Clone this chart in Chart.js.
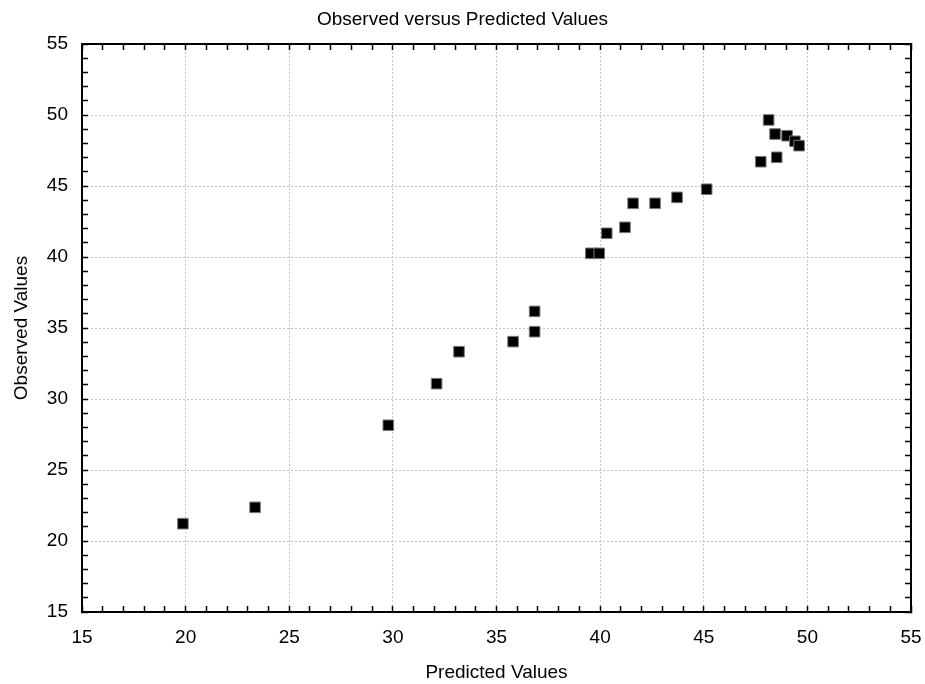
<!DOCTYPE html>
<html>
<head>
<meta charset="utf-8">
<title>Observed versus Predicted Values</title>
<script src="https://cdn.jsdelivr.net/npm/chart.js@4/dist/chart.umd.min.js"></script>
<style>
  body { margin: 0; background: #fff; }
  canvas { display: block; }
</style>
</head>
<body>
<canvas id="myChart" width="925" height="684"></canvas>
<script>
// values
const predicted = [19.87, 23.35, 29.78, 32.11, 33.19, 35.80, 36.84, 36.84, 39.55, 39.96,
                   40.32, 41.20, 41.59, 42.65, 43.71, 45.14, 47.75, 48.13, 48.44, 48.52,
                   49.02, 49.40, 49.60];
const observed  = [21.22, 22.37, 28.15, 31.08, 33.33, 34.04, 34.74, 36.17, 40.26, 40.26,
                   41.67, 42.09, 43.78, 43.78, 44.20, 44.77, 46.71, 49.65, 48.66, 47.02,
                   48.54, 48.15, 47.84];
const axisMin = 15;
const axisMax = 55;
const majorStep = 5;

const fontFamily = "'Liberation Sans', Arial, sans-serif";

let points = [];
for (var i = 0; i < predicted.length; i++)
  points.push({x: predicted[i], y: observed[i]});

function majorLabel(v)
{
  return v % majorStep === 0 ? v : '';
}
function gridColor(c)
{
  const v = c.tick ? c.tick.value : null;
  if (v === null || v % majorStep !== 0 || v === axisMin || v === axisMax)
    return 'rgba(0,0,0,0)';
  return '#c4c4c4';
}

// common bits for the four axes
function axis(position, size, showLabels, titleText, titlePad)
{
  const horiz = position === 'top' || position === 'bottom';
  return {
    type: 'linear',
    position: position,
    min: axisMin,
    max: axisMax,
    afterFit: function (s) {
      if (horiz) s.height = size; else s.width = size;
      // edge labels must not push the plot area in
      s.paddingLeft = 0; s.paddingRight = 0;
      s.paddingTop = 0; s.paddingBottom = 0;
    },
    ticks: {
      stepSize: 1,
      autoSkip: false,
      display: showLabels,
      maxRotation: 0,
      padding: 20,
      color: '#000',
      font: { family: fontFamily, size: 19 },
      callback: majorLabel
    },
    grid: {
      drawOnChartArea: showLabels,
      color: gridColor,
      lineWidth: 1,
      drawTicks: true,
      tickLength: -6,
      tickColor: '#000',
      tickWidth: 1.5
    },
    border: { display: true, color: '#000', width: 2, dash: [2, 2] },
    title: {
      display: !!titleText,
      text: titleText || '',
      color: '#000',
      font: { family: fontFamily, size: 19 },
      padding: titlePad || 0
    }
  };
}

const ctx = document.getElementById('myChart').getContext('2d');
const myChart = new Chart(ctx, {
  type: 'scatter',
  data: {
    datasets: [{
      label: 'Observed',
      data: points,
      pointStyle: 'rect',
      pointRadius: 7.5,
      backgroundColor: '#000',
      borderColor: '#7a7a7a',
      borderWidth: 1
    }]
  },
  options: {
    responsive: false,
    animation: false,
    layout: { padding: 0 },
    plugins: {
      legend: { display: false },
      tooltip: { enabled: false },
      title: {
        display: true,
        text: 'Observed versus Predicted Values',
        color: '#000',
        font: { family: fontFamily, size: 19, weight: 'normal' },
        padding: { top: 8, bottom: 13.2 }
      }
    },
    scales: {
      x: axis('bottom', 72, true, 'Predicted Values', { top: 0, bottom: 0 }),
      y: axis('left', 82, true, 'Observed Values', { top: 10.5, bottom: 0 }),
      x2: axis('top', 0, false),
      y2: axis('right', 14, false)
    }
  }
});
</script>
</body>
</html>
